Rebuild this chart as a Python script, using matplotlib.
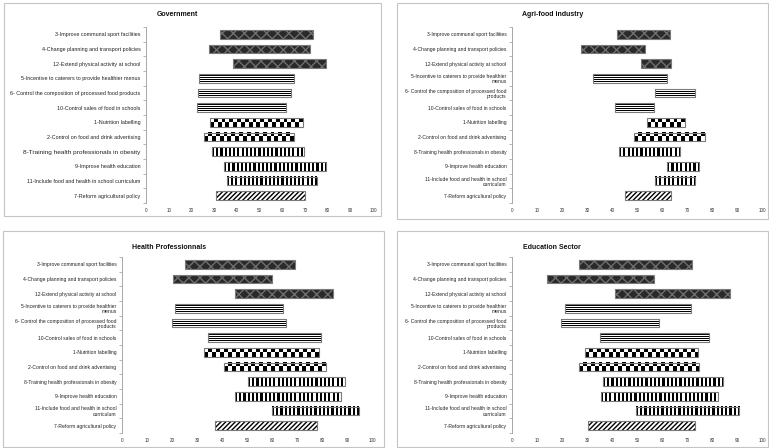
import numpy as np
import matplotlib
matplotlib.use("Agg")
import matplotlib.pyplot as plt
from matplotlib.patches import Rectangle

plt.rcParams['font.family'] = ['Liberation Sans', 'DejaVu Sans']

# categories, top to bottom
measures = [
    "3-Improve communal sport facilities",
    "4-Change planning and transport policies",
    "12-Extend physical activity at school",
    "5-Incentive to caterers to provide healthier menus",
    "6- Control the composition of processed food products",
    "10-Control sales of food in schools",
    "1-Nutrition labelling",
    "2-Control on food and drink advertising",
    "8-Training health professionals in obesity",
    "9-Improve health education",
    "11-Include food and health in school curriculum",
    "7-Reform agricultural policy",
]
measures_wrapped = [
    "3-Improve communal sport facilities",
    "4-Change planning and transport policies",
    "12-Extend physical activity at school",
    "5-Incentive to caterers to provide healthier\nmenus",
    "6- Control the composition of processed food\nproducts",
    "10-Control sales of food in schools",
    "1-Nutrition labelling",
    "2-Control on food and drink advertising",
    "8-Training health professionals in obesity",
    "9-Improve health education",
    "11-Include food and health in school\ncurriculum",
    "7-Reform agricultural policy",
]
# pattern group of each measure
groups = ["dots", "dots", "dots", "hlines", "hlines", "hlines",
          "checker", "checker", "vlines", "vlines", "vlines", "diag"]

# range of scores (low, high) per stakeholder
gov_low = [32.4, 27.9, 38.3, 23.2, 22.7, 22.3, 28.4, 25.5, 28.9, 34.2, 35.9, 30.9]
gov_high = [73.5, 72.2, 79.2, 65.1, 63.8, 61.6, 69.2, 65.1, 69.6, 79.3, 75.5, 70.1]

agri_low = [42.1, 27.7, 51.7, 32.3, 57.1, 41.3, 54.1, 48.7, 42.7, 61.9, 57.1, 45.3]
agri_high = [63.2, 53.1, 63.7, 62.0, 73.1, 56.8, 69.2, 77.0, 67.2, 74.8, 73.2, 63.6]

health_low = [25.1, 20.3, 45.3, 21.1, 20.0, 34.3, 32.8, 40.8, 50.4, 45.3, 60.0, 37.1]
health_high = [69.2, 59.9, 84.3, 64.3, 65.5, 79.6, 78.7, 81.6, 89.1, 87.6, 94.8, 77.9]

edu_low = [26.7, 13.9, 41.2, 21.1, 19.7, 35.1, 29.1, 26.8, 36.3, 35.5, 49.5, 30.4]
edu_high = [72.1, 56.7, 87.1, 71.5, 58.9, 78.9, 74.5, 74.9, 84.5, 82.3, 90.8, 73.3]

W, H = 769, 448
fig = plt.figure(figsize=(W / 100, H / 100), dpi=100)


def px_axes(left, right, top, bottom):
    return fig.add_axes([left / W, 1 - bottom / H, (right - left) / W, (bottom - top) / H])


def frame(x0, y0, x1, y1):
    fig.patches.append(Rectangle((x0 / W, 1 - y1 / H), (x1 - x0) / W, (y1 - y0) / H,
                                 transform=fig.transFigure, fill=False,
                                 edgecolor="#c4c4c4", linewidth=0.8))


def pattern_fill(ax, y, lo, hi, h, board):
    # fill a bar with a small bitmap pattern (1 = black)
    ax.imshow(board, cmap="gray_r", vmin=0, vmax=1, extent=(lo, hi, y + h / 2, y - h / 2),
              interpolation="nearest", aspect="auto", zorder=2)


def draw_panel(ax, title, title_xy, labels, low, high, fs, big=None):
    n = len(labels)
    ys = np.arange(n)
    h = 0.6
    # data units per pixel on this axis
    upx = 100 / (ax.get_position().width * W)
    for i in range(n):
        lo, hi = low[i], high[i]
        g = groups[i]
        if g == "dots":
            ax.barh(ys[i], hi - lo, left=lo, height=h, color="#2a2a2a",
                    edgecolor="#6e6e6e", linewidth=0, hatch="xxx")
        elif g == "diag":
            ax.barh(ys[i], hi - lo, left=lo, height=h, color="white",
                    edgecolor="black", linewidth=0, hatch="///////")
        elif g == "hlines":
            board = np.array([[0], [1], [0], [1], [0], [1], [0], [1], [0]], dtype=float)
            pattern_fill(ax, ys[i], lo, hi, h, board)
        elif g == "vlines":
            ncol = max(2, int(round((hi - lo) / (2.1 * upx))))
            board = (np.arange(ncol) % 2 == 0).astype(float)[None, :]
            pattern_fill(ax, ys[i], lo, hi, h, board)
        else:
            ncol = max(2, int(round((hi - lo) / (3.9 * upx))))
            board = (np.indices((2, ncol)).sum(axis=0) % 2).astype(float)
            pattern_fill(ax, ys[i], lo, hi, h, board)
        ax.barh(ys[i], hi - lo, left=lo, height=h, fill=False,
                edgecolor="#7a7a7a", linewidth=0.8, zorder=3)

    ax.set_xlim(0, 100)
    ax.set_ylim(n - 0.5, -0.5)
    ax.set_xticks(np.arange(0, 101, 10))
    ax.set_yticks(ys)
    ax.set_yticklabels(labels, fontsize=fs, color="#222222", linespacing=1.1)
    ax.set_yticks(np.arange(n + 1) - 0.5, minor=True)
    ax.tick_params(axis="y", which="major", length=0, pad=4)
    ax.tick_params(axis="y", which="minor", length=2.5, width=0.5, color="#999999")
    ax.tick_params(axis="x", length=0, labelsize=3.3, labelcolor="#333333", pad=3.5)
    for s in ["top", "right", "bottom"]:
        ax.spines[s].set_visible(False)
    ax.spines["left"].set_color("#999999")
    ax.spines["left"].set_linewidth(0.6)
    if big is not None:
        ax.get_yticklabels()[big].set_fontsize(fs * 1.2)
    fig.text(title_xy[0] / W, 1 - title_xy[1] / H, title, fontsize=5.0,
             fontweight="bold", ha="left", va="center", color="#111111")


# panel frames
frame(4, 3, 381, 216)
frame(397, 3, 768, 219)
frame(3, 231, 384, 447)
frame(397, 231, 768, 447)

ax1 = px_axes(146, 373, 27, 203)
draw_panel(ax1, "Government", (157, 15), measures, gov_low, gov_high, 3.9, big=8)

ax2 = px_axes(512, 762, 27, 203)
draw_panel(ax2, "Agri-food industry", (522, 15), measures_wrapped, agri_low, agri_high, 3.65)

ax3 = px_axes(122, 372, 257, 433)
draw_panel(ax3, "Health Professionnals", (132, 247), measures_wrapped, health_low, health_high, 3.6)

ax4 = px_axes(512, 762, 257, 433)
draw_panel(ax4, "Education Sector", (523, 247), measures_wrapped, edu_low, edu_high, 3.6)

fig.savefig("out.png", dpi=100)
